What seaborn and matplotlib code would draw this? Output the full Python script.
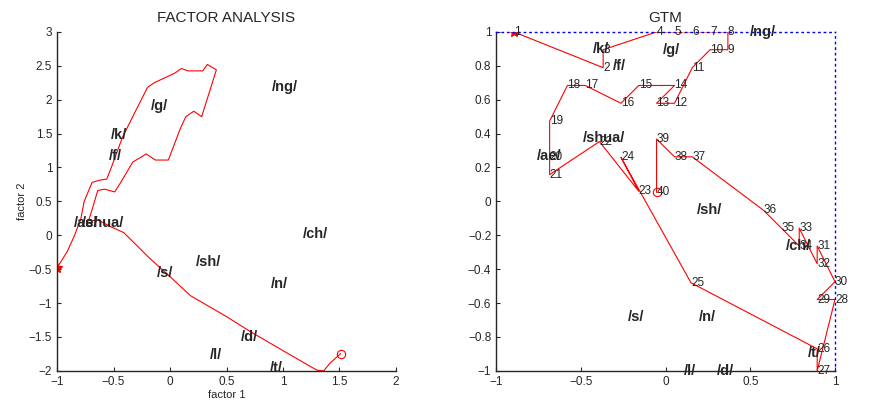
import seaborn as sns
import matplotlib.pyplot as plt
from matplotlib.ticker import FuncFormatter
import numpy as np

# factor analysis trajectory (factor 1, factor 2)
fa_x = [-1.00, -0.91, -0.85, -0.79, -0.76, -0.69, -0.63, -0.56, -0.52, -0.42, -0.30, -0.20,
        -0.14, 0.04, 0.10, 0.16, 0.29, 0.33, 0.41, 0.28, 0.21, 0.14, 0.09, -0.015, -0.13,
        -0.21, -0.33, -0.44, -0.49, -0.58, -0.64, -0.69, -0.72, -0.63, -0.53, -0.41, -0.18,
        0.00, 0.18, 0.50, 0.71, 1.06, 1.30, 1.36, 1.42, 1.51]
fa_y = [-0.48, -0.24, -0.02, 0.24, 0.50, 0.78, 0.81, 0.83, 1.00, 1.45, 1.85, 2.18,
        2.25, 2.39, 2.46, 2.425, 2.425, 2.52, 2.44, 1.75, 1.83, 1.75, 1.57, 1.11, 1.11,
        1.20, 1.08, 0.77, 0.64, 0.68, 0.66, 0.38, 0.22, 0.22, 0.13, 0.04, -0.34,
        -0.61, -0.89, -1.20, -1.42, -1.76, -1.99, -2.00, -1.88, -1.745]

fa_labels = ["/ng/", "/g/", "/k/", "/f/", "/ae/", "/shua/", "/ch/", "/sh/", "/s/", "/n/", "/d/", "/l/", "/t/"]
fa_lab_x = [0.90, -0.17, -0.52, -0.54, -0.85, -0.78, 1.175, 0.23, -0.12, 0.89, 0.63, 0.354, 0.885]
fa_lab_y = [2.19, 1.91, 1.48, 1.17, 0.18, 0.18, 0.016, -0.40, -0.55, -0.72, -1.50, -1.77, -1.96]

# GTM latent trajectory, points 1..40
gtm_x = [-0.895, -0.368, -0.368, -0.053, 0.053, 0.158, 0.263, 0.368, 0.368, 0.263,
         0.158, 0.053, -0.053, 0.053, -0.158, -0.263, -0.474, -0.579, -0.684, -0.684,
         -0.684, -0.39, -0.158, -0.263, 0.15, 0.895, 0.895, 1.0, 0.895, 1.0,
         0.895, 0.895, 0.789, 0.789, 0.684, 0.579, 0.158, 0.053, -0.053, -0.053]
gtm_y = [1.0, 0.789, 0.895, 1.0, 1.0, 1.0, 1.0, 1.0, 0.895, 0.895,
         0.789, 0.579, 0.579, 0.684, 0.684, 0.579, 0.684, 0.684, 0.474, 0.263,
         0.158, 0.353, 0.06, 0.26, -0.48, -0.87, -1.0, -0.579, -0.579, -0.474,
         -0.263, -0.368, -0.158, -0.263, -0.158, -0.053, 0.263, 0.263, 0.368, 0.053]

gtm_labels = ["/ng/", "/k/", "/g/", "/f/", "/shua/", "/ae/", "/sh/", "/ch/", "/s/", "/n/", "/t/", "/l/", "/d/"]
gtm_lab_x = [0.50, -0.43, -0.016, -0.31, -0.49, -0.76, 0.185, 0.71, -0.22, 0.195, 0.84, 0.11, 0.30]
gtm_lab_y = [1.0, 0.90, 0.896, 0.80, 0.376, 0.27, -0.05, -0.265, -0.68, -0.68, -0.896, -1.0, -1.0]

sns.set_style("ticks")
plt.rcParams['font.family'] = ['Liberation Sans', 'DejaVu Sans']

# matlab style tick labels
def tick_fmt(v, pos):
    v = round(v, 6)
    if v == 0:
        return "0"
    return ("%g" % v).replace("-", "\u2212")

fig = plt.figure(figsize=(8.78, 4.2), dpi=100)
ax1 = fig.add_axes([0.065, 0.117, 0.386, 0.807])
ax2 = fig.add_axes([0.565, 0.117, 0.386, 0.807])

# left: factor analysis
sns.lineplot(x=fa_x, y=fa_y, sort=False, estimator=None, color='red', lw=0.8, ax=ax1)
ax1.plot(fa_x[0], fa_y[0], marker='*', color='red', ms=7)
ax1.plot(fa_x[-1], fa_y[-1], marker='o', mfc='none', mec='red', ms=6, mew=0.8)
for t, x, y in zip(fa_labels, fa_lab_x, fa_lab_y):
    ax1.text(x, y, t, fontsize=10.5, fontweight='bold', ha='left', va='center')
ax1.set_xlim(-1, 2)
ax1.set_ylim(-2, 3)
ax1.set_xticks(np.arange(-1, 2.01, 0.5))
ax1.set_yticks(np.arange(-2, 3.01, 0.5))
ax1.set_xlabel("factor 1", fontsize=8, labelpad=2)
ax1.set_ylabel("factor 2", fontsize=8, labelpad=1)
ax1.set_title("FACTOR ANALYSIS", fontsize=11, pad=7)
sns.despine(ax=ax1)

# right: GTM
sns.lineplot(x=gtm_x, y=gtm_y, sort=False, estimator=None, color='red', lw=0.8, ax=ax2)
ax2.plot(gtm_x[0], gtm_y[0], marker='*', color='red', ms=7)
ax2.plot(gtm_x[-1], gtm_y[-1], marker='o', mfc='none', mec='red', ms=6, mew=0.8)
for i, (x, y) in enumerate(zip(gtm_x, gtm_y)):
    ax2.text(x, y, str(i + 1), fontsize=8.5, ha='left', va='center')
for t, x, y in zip(gtm_labels, gtm_lab_x, gtm_lab_y):
    ax2.text(x, y, t, fontsize=10.5, fontweight='bold', ha='left', va='center')
ax2.set_xlim(-1, 1)
ax2.set_ylim(-1, 1)
ax2.set_xticks(np.arange(-1, 1.01, 0.5))
ax2.set_yticks(np.round(np.arange(-1, 1.01, 0.2), 2))
ax2.set_title("GTM", fontsize=11, pad=7)
for s in ['top', 'right']:
    ax2.spines[s].set_color('blue')
    ax2.spines[s].set_linestyle((0, (1, 3)))
    ax2.spines[s].set_linewidth(1)

for ax in (ax1, ax2):
    ax.xaxis.set_major_formatter(FuncFormatter(tick_fmt))
    ax.yaxis.set_major_formatter(FuncFormatter(tick_fmt))
    ax.tick_params(direction='in', length=3, labelsize=8.5, width=0.8)
    ax.tick_params(axis='both', which='both', top=False, right=False)
    for s in ['left', 'bottom']:
        ax.spines[s].set_linewidth(1)

fig.savefig("out.png", dpi=100)
